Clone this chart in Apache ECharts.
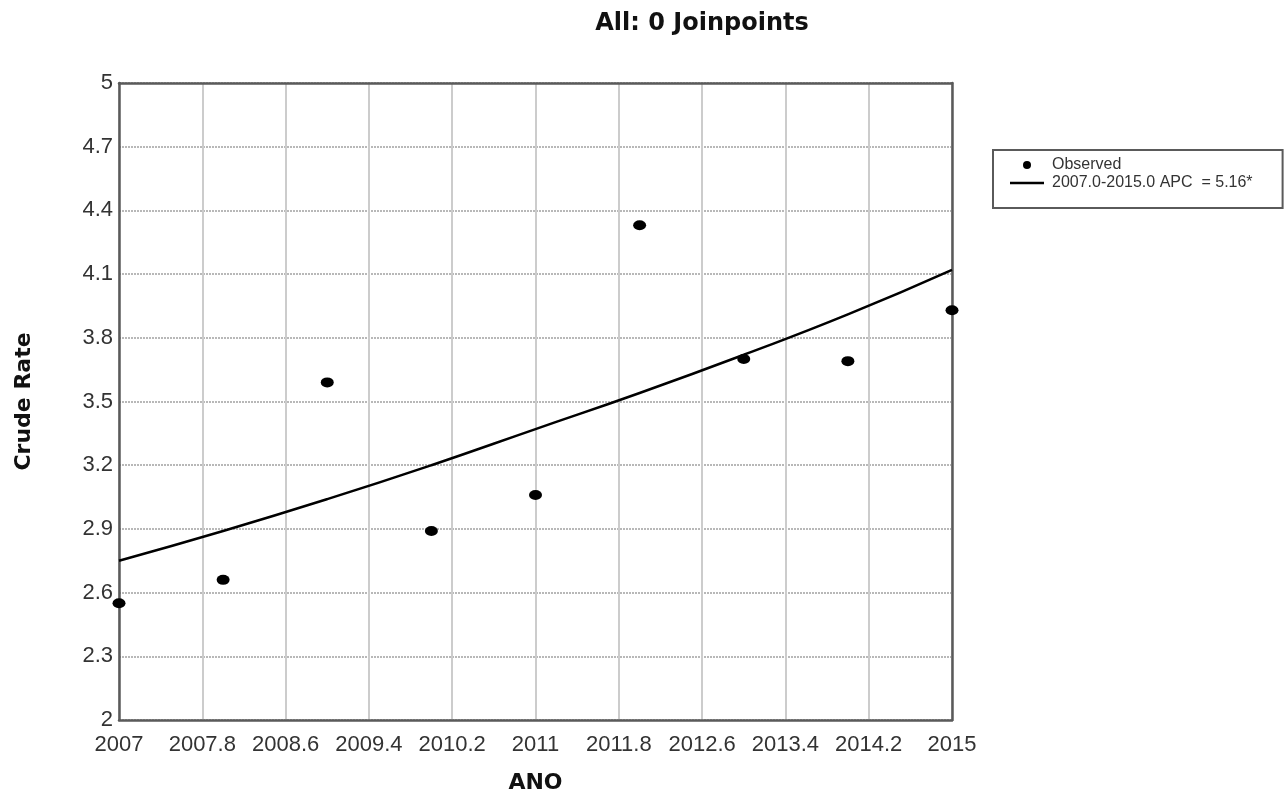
<!DOCTYPE html>
<html>
<head>
<meta charset="utf-8">
<script src="https://cdn.jsdelivr.net/npm/echarts@6/dist/echarts.min.js"></script>
<style>
  html, body { margin: 0; padding: 0; background: #fff; }
  #chart { width: 1286px; height: 800px; }
</style>
</head>
<body>
<div id="chart"></div>
<script>
// observed crude rates by year
const years = [2007, 2008, 2009, 2010, 2011, 2012, 2013, 2014, 2015]
const observed = [2.55, 2.66, 3.59, 2.89, 3.06, 4.33, 3.70, 3.69, 3.93]
// fitted joinpoint line
const fitted = [2.75, 2.89, 3.04, 3.20, 3.37, 3.54, 3.72, 3.91, 4.12]

const chart = echarts.init(document.getElementById('chart'))

const fmt = v => String(+v.toFixed(1))
const frameColor = '#5a5a5a'
const boldFont = { fontFamily: 'DejaVu Sans', fontWeight: 'bold', fontSize: 22, color: '#111' }

let option = {
  animation: false,
  title: {
    text: 'All: 0 Joinpoints',
    left: 697,
    textAlign: 'center',
    top: 7,
    textStyle: Object.assign({}, boldFont, { fontSize: 24 })
  },
  legend: {
    orient: 'vertical',
    left: 993,
    top: 150,
    padding: [7, 30, 17, 17],
    itemGap: 2,
    itemWidth: 34,
    itemHeight: 8,
    borderColor: frameColor,
    borderWidth: 2,
    textStyle: { fontFamily: 'Liberation Sans', fontSize: 16, color: '#333', padding: [0, 0, 0, 3] },
    data: [
      { name: 'Observed', icon: 'circle' },
      { name: '2007.0-2015.0 APC  = 5.16*', icon: 'path://M0,0 H34 V2.5 H0 Z' }
    ]
  },
  grid: {
    left: 119, right: 334, top: 83, bottom: 80
  },
  xAxis: [
    {
      type: 'value',
      min: 2007, max: 2015, interval: 0.8,
      name: 'ANO',
      nameLocation: 'middle',
      nameGap: 52,
      nameTextStyle: boldFont,
      axisLine: { show: true, lineStyle: { color: frameColor, width: 2.5 } },
      axisTick: { show: false },
      axisLabel: { formatter: fmt, margin: 14, fontFamily: 'Liberation Sans', fontSize: 22, color: '#333' },
      splitLine: { show: true, lineStyle: { color: '#cccccc', width: 2 } }
    },
    {
      // top edge of the frame
      type: 'value', position: 'top',
      min: 2007, max: 2015,
      axisLine: { show: true, lineStyle: { color: frameColor, width: 2.5 } },
      axisTick: { show: false }, axisLabel: { show: false }, splitLine: { show: false }
    }
  ],
  yAxis: [
    {
      type: 'value',
      min: 2, max: 5, interval: 0.3,
      name: 'Crude Rate',
      nameLocation: 'middle',
      nameGap: 84,
      nameTextStyle: boldFont,
      axisLine: { show: true, lineStyle: { color: frameColor, width: 2.5 } },
      axisTick: { show: false },
      axisLabel: { formatter: fmt, margin: 6, fontFamily: 'Liberation Sans', fontSize: 22, color: '#333' },
      splitLine: { show: true, lineStyle: { color: '#b8b8b8', width: 2, type: [2, 1] } }
    },
    {
      // right edge of the frame
      type: 'value', position: 'right',
      min: 2, max: 5,
      axisLine: { show: true, lineStyle: { color: frameColor, width: 2.5 } },
      axisTick: { show: false }, axisLabel: { show: false }, splitLine: { show: false }
    }
  ],
  series: [
    {
      name: 'Observed',
      type: 'scatter',
      symbol: 'circle',
      symbolSize: [13, 10],
      z: 5,
      itemStyle: { color: '#000', opacity: 1 },
      data: years.map((y, i) => [y, observed[i]])
    },
    {
      name: '2007.0-2015.0 APC  = 5.16*',
      type: 'line',
      symbol: 'none',
      smooth: true,
      lineStyle: { color: '#000', width: 2.5 },
      itemStyle: { color: '#000' },
      data: years.map((y, i) => [y, fitted[i]])
    }
  ]
}

chart.setOption(option)
</script>
</body>
</html>
